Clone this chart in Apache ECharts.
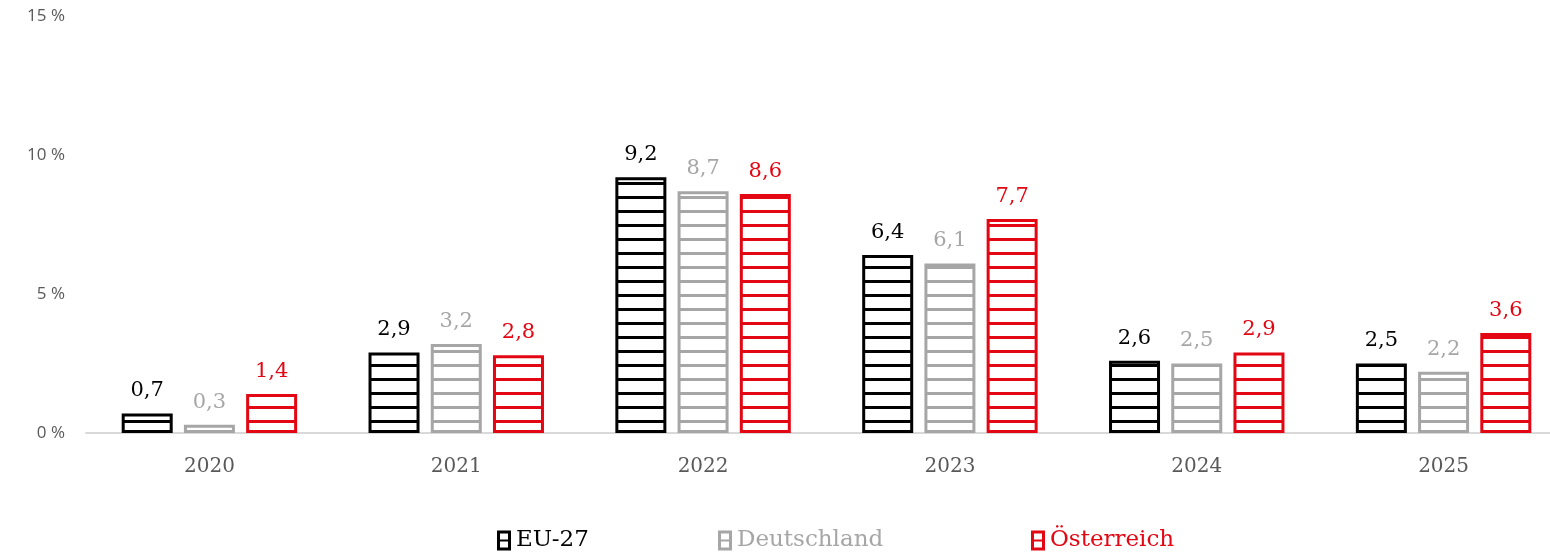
<!DOCTYPE html>
<html>
<head>
<meta charset="utf-8">
<script src="https://cdn.jsdelivr.net/npm/echarts@6/dist/echarts.min.js"></script>
<style>
html,body{margin:0;padding:0;background:#fff;}
#c{width:1550px;height:553px;}
</style>
</head>
<body>
<div id="c"></div>
<script>
const categories = ['2020', '2021', '2022', '2023', '2024', '2025'];
const seriesNames = ['EU-27', 'Deutschland', 'Österreich'];
const euValues = [0.7, 2.9, 9.2, 6.4, 2.6, 2.5];
const deValues = [0.3, 3.2, 8.7, 6.1, 2.5, 2.2];
const atValues = [1.4, 2.8, 8.6, 7.7, 2.9, 3.6];
const yTicks = [0, 5, 10, 15];
const colors = ['#000000', '#a6a6a6', '#e30613'];

function makePattern(color, thick) {
  const cv = document.createElement('canvas');
  cv.width = 14; cv.height = 14;
  const ctx = cv.getContext('2d');
  ctx.fillStyle = '#ffffff';
  ctx.fillRect(0, 0, 14, 14);
  ctx.fillStyle = color;
  ctx.fillRect(0, 0, 14, thick);
  return { image: cv, repeat: 'repeat' };
}

const serifFont = '"DejaVu Serif", "Liberation Serif", serif';
const iconPath = 'path://M0,0L14,0L14,20L0,20Z M3,3L3,9L11,9L11,3Z M3,11L3,17L11,17L11,11Z';

const values = [euValues, deValues, atValues];
const series = seriesNames.map((name, i) => ({
  name: name,
  type: 'bar',
  data: values[i],
  barWidth: 51,
  barGap: '22%',
  itemStyle: {
    color: makePattern(colors[i], 3),
    borderColor: colors[i],
    borderWidth: 3
  },
  label: {
    show: true,
    position: 'top',
    distance: 12,
    color: colors[i],
    fontFamily: serifFont,
    fontSize: 21,
    formatter: p => p.value.toFixed(1).replace('.', ',')
  }
}));

const legendLefts = [497, 718, 1031];
const legends = seriesNames.map((name, i) => ({
  data: [{ name: name, icon: iconPath, itemStyle: { color: colors[i], borderWidth: 0 } }],
  left: legendLefts[i],
  top: 529,
  padding: 0,
  itemWidth: 14,
  itemHeight: 20,
  itemGap: 0,
  selectedMode: false,
  textStyle: { color: colors[i], fontFamily: serifFont, fontSize: 23, padding: [0, 0, 0, 0] }
}));

const chart = echarts.init(document.getElementById('c'), null, { renderer: 'canvas' });
chart.setOption({
  animation: false,
  backgroundColor: '#ffffff',
  grid: { left: 86, width: 1481, top: 16, bottom: 120, containLabel: false, outerBoundsMode: 'none' },
  legend: legends,
  xAxis: {
    type: 'category',
    data: categories,
    axisLine: { lineStyle: { color: '#d9d9d9', width: 2 } },
    axisTick: { show: false },
    axisLabel: { color: '#595959', fontFamily: serifFont, fontSize: 20, margin: 24 }
  },
  yAxis: {
    type: 'value',
    min: yTicks[0],
    max: yTicks[yTicks.length - 1],
    interval: yTicks[1] - yTicks[0],
    axisLine: { show: false },
    axisTick: { show: false },
    splitLine: { show: false },
    axisLabel: {
      color: '#595959',
      fontFamily: '"Open Sans", "Noto Sans", sans-serif',
      fontSize: 17,
      margin: 21,
      formatter: v => v + ' %'
    }
  },
  series: series
});
</script>
</body>
</html>
